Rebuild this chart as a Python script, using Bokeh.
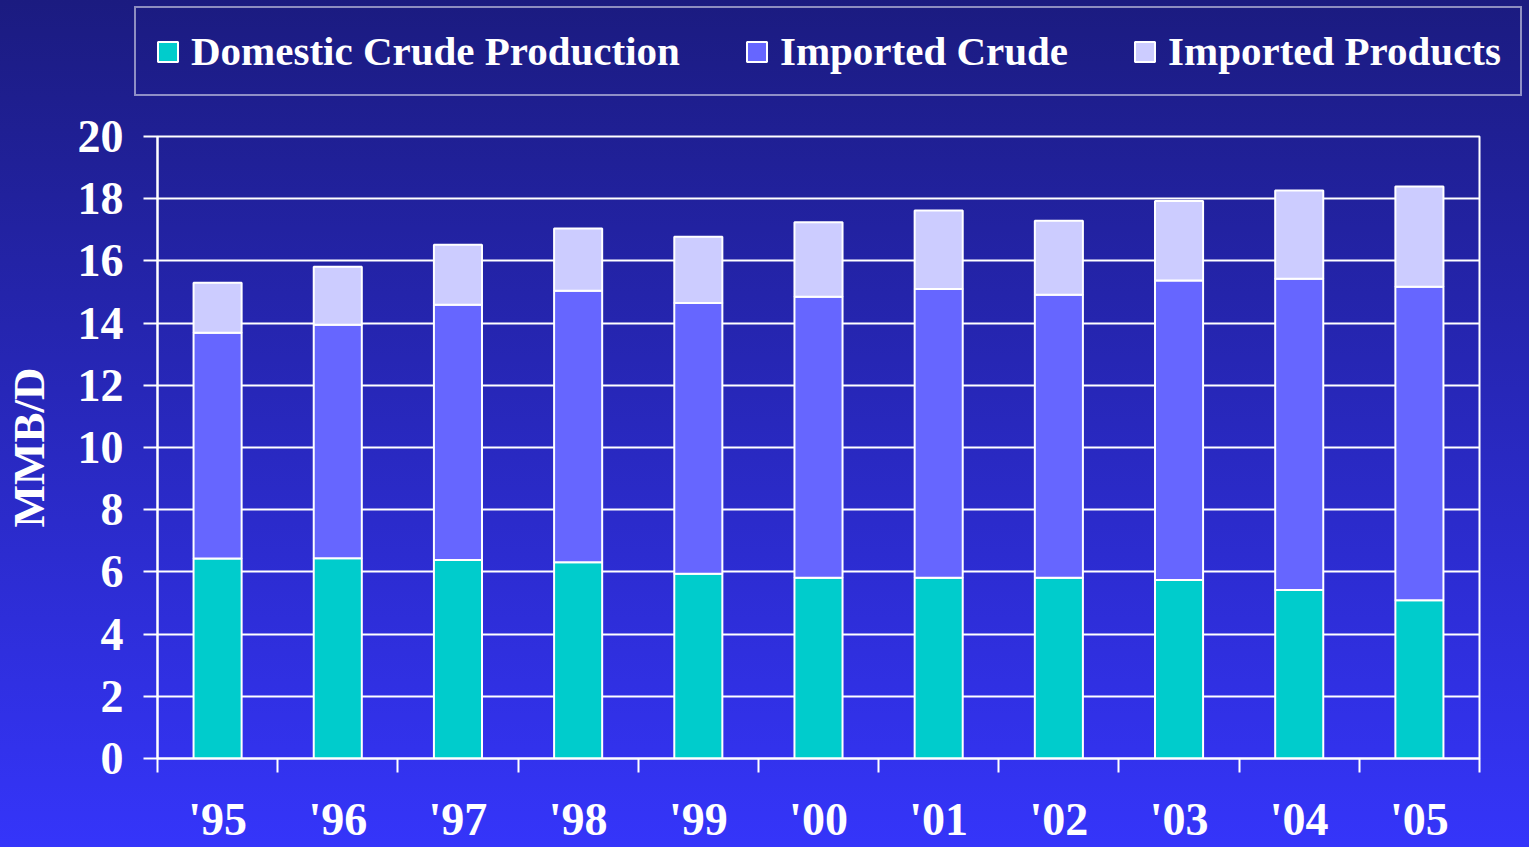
from bokeh.plotting import figure
from bokeh.layouts import column
from bokeh.models import (ColumnDataSource, Range1d, FixedTicker, Legend, LegendItem)
from bokeh.embed import file_html
from bokeh.resources import INLINE

# ---- data (MMB/D) ----
years = ["'95", "'96", "'97", "'98", "'99", "'00", "'01", "'02", "'03", "'04", "'05"]
domestic_crude = [6.43, 6.44, 6.38, 6.31, 5.94, 5.81, 5.81, 5.81, 5.74, 5.42, 5.09]
imported_crude = [7.26, 7.51, 8.21, 8.73, 8.71, 9.04, 9.29, 9.10, 9.63, 10.01, 10.08]
imported_products = [1.61, 1.86, 1.93, 2.00, 2.13, 2.39, 2.52, 2.38, 2.56, 2.83, 3.22]
series_names = ["Domestic Crude Production", "Imported Crude", "Imported Products"]
series_colors = ["#00CCCC", "#6666FF", "#CCCCFF"]
y_ticks = [0, 2, 4, 6, 8, 10, 12, 14, 16, 18, 20]
y_label = "MMB/D"

FONT = "Liberation Serif"
n = len(years)
idx = list(range(n))                       # category slot index on the x scale
stack_fields = ["dom", "crude", "prod"]

src = ColumnDataSource(dict(pos=idx, year=years, dom=domestic_crude,
                            crude=imported_crude, prod=imported_products))

# ================= main chart =================
p = figure(x_range=Range1d(-0.5, n - 0.5), y_range=Range1d(0, 20),
           width=1529, height=747,
           output_backend="svg", toolbar_location=None,
           x_axis_location="below", y_axis_location="left")

p.min_border_left = 157
p.min_border_right = 50
p.min_border_top = 36
p.min_border_bottom = 89

p.background_fill_alpha = 0
p.border_fill_alpha = 0
p.outline_line_color = "white"
p.outline_line_width = 2

rs = p.vbar_stack(stack_fields, x="pos", width=0.4, source=src,
                  fill_color=series_colors, line_color="white", line_width=2)

ya = p.yaxis[0]
ya.ticker = FixedTicker(ticks=y_ticks)
ya.axis_line_color = "white"
ya.axis_line_width = 2
ya.major_tick_line_color = "white"
ya.major_tick_line_width = 2
ya.major_tick_out = 14
ya.major_tick_in = 0
ya.minor_tick_line_color = None
ya.major_label_text_font = FONT
ya.major_label_text_font_style = "bold"
ya.major_label_text_font_size = "46px"
ya.major_label_text_color = "white"
ya.major_label_standoff = 20
ya.axis_label = y_label
ya.axis_label_text_font = FONT
ya.axis_label_text_font_style = "bold"
ya.axis_label_text_font_size = "45px"
ya.axis_label_text_color = "white"
ya.axis_label_standoff = 21

p.ygrid.ticker = FixedTicker(ticks=y_ticks)
p.ygrid.grid_line_color = "white"
p.ygrid.grid_line_width = 2
p.xgrid.visible = False

# bottom axis: labels at slot centres, tick marks (minor) at slot boundaries
xa = p.xaxis[0]
xa.ticker = FixedTicker(ticks=idx, minor_ticks=[i - 0.5 for i in range(n + 1)])
xa.major_label_overrides = {i: y for i, y in zip(idx, years)}
xa.major_label_text_font = FONT
xa.major_label_text_font_style = "bold"
xa.major_label_text_font_size = "46px"
xa.major_label_text_color = "white"
xa.major_label_standoff = 21
xa.major_tick_out = 0
xa.major_tick_in = 0
xa.major_tick_line_color = None
xa.minor_tick_out = 14
xa.minor_tick_in = 0
xa.minor_tick_line_color = "white"
xa.minor_tick_line_width = 2
xa.axis_line_color = "white"
xa.axis_line_width = 2

# ================= legend strip =================
# same series as hidden renderers: only their legend keys are drawn here
lg = figure(x_range=Range1d(-0.5, n - 0.5), y_range=Range1d(100, 101),
            width=1529, height=100,
            output_backend="svg", toolbar_location=None,
            x_axis_location=None, y_axis_location=None, min_border=0)
try:
    lg.frame_align = False
except Exception:
    pass
lg.background_fill_alpha = 0
lg.border_fill_alpha = 0
lg.outline_line_color = None
lg.grid.visible = False

keys = lg.vbar_stack(stack_fields, x="pos", width=0.4, source=src,
                     fill_color=series_colors, line_color="white", line_width=2)
for k in keys:
    k.visible = False

legend = Legend(items=[LegendItem(label=nm, renderers=[r]) for nm, r in zip(series_names, keys)],
                orientation="horizontal", location=(134, 4),
                glyph_width=25, glyph_height=25, label_standoff=11, spacing=64,
                padding=19, margin=0,
                border_line_color="white", border_line_width=2,
                background_fill_alpha=0,
                inactive_fill_alpha=0,
                label_text_font=FONT, label_text_font_style="bold",
                label_text_font_size="41px", label_text_color="white")
lg.add_layout(legend)

layout = column(lg, p, spacing=0)

try:
    from bokeh.models import GlobalInlineStyleSheet
    layout.stylesheets = [GlobalInlineStyleSheet(css=(
        "html{background:linear-gradient(to bottom,#1b1b80 0%,#3535fa 100%) no-repeat;"
        "min-height:100%;} body{background:transparent;}"))]
except Exception:
    layout.styles = {"background": "linear-gradient(to bottom,#1c1c82 0%,#3434f8 100%)"}

open("out.html", "w").write(file_html(layout, INLINE))
